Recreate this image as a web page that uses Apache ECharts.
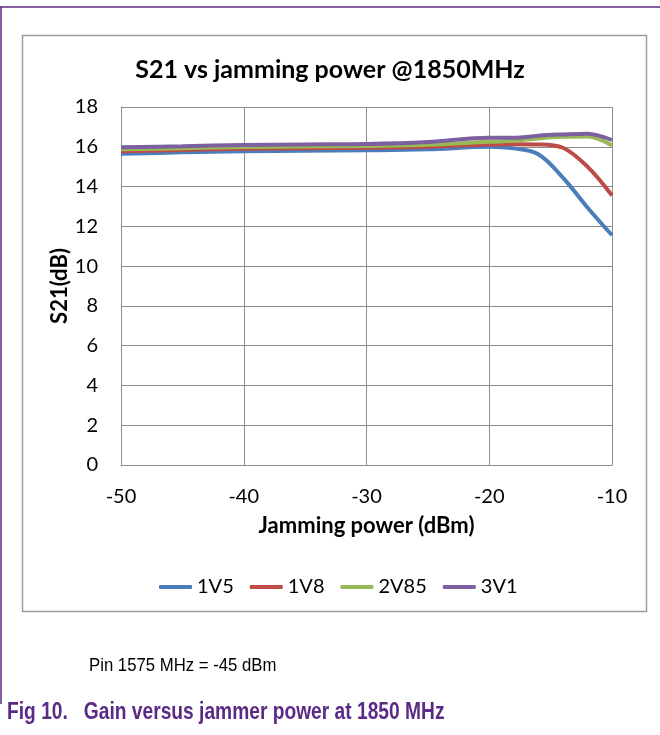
<!DOCTYPE html>
<html>
<head>
<meta charset="utf-8">
<script src="https://cdn.jsdelivr.net/npm/echarts@6/dist/echarts.min.js"></script>
<style>
html,body{margin:0;padding:0;background:#fff;}
#chart{width:660px;height:735px;}
</style>
</head>
<body>
<div id="chart"></div>
<script>
// Data
const jammingPower = [-50, -45, -40, -35, -30, -25, -20, -18, -16, -14, -12, -10];
const s21_1V5  = [15.65, 15.72, 15.78, 15.80, 15.82, 15.87, 16.00, 15.92, 15.62, 14.45, 12.95, 11.55];
const s21_1V8  = [15.77, 15.84, 15.90, 15.93, 15.95, 16.00, 16.12, 16.13, 16.12, 15.95, 15.00, 13.55];
const s21_2V85 = [15.87, 15.93, 15.99, 16.02, 16.04, 16.10, 16.25, 16.30, 16.42, 16.50, 16.52, 16.07];
const s21_3V1  = [15.97, 16.03, 16.09, 16.12, 16.14, 16.24, 16.45, 16.45, 16.56, 16.62, 16.66, 16.34];
const seriesNames = ['1V5', '1V8', '2V85', '3V1'];
const seriesColors = ['#4a7ebb', '#be4b48', '#98b954', '#7d60a0'];
const xTicks = {min: -50, max: -10, interval: 10};
const yTicks = {min: 0, max: 18, interval: 2};
const chartTitle = 'S21 vs jamming power @1850MHz';
const xAxisTitle = 'Jamming power (dBm)';
const yAxisTitle = 'S21(dB)';
const noteText = 'Pin 1575 MHz = -45 dBm';
const captionText = 'Fig 10.   Gain versus jammer power at 1850 MHz';

const seriesValues = [s21_1V5, s21_1V8, s21_2V85, s21_3V1];
const FONT = 'Lato';

const chart = echarts.init(document.getElementById('chart'), null, {renderer: 'canvas'});
chart.setOption({
  backgroundColor: '#fff',
  animation: false,
  title: {
    text: chartTitle,
    left: 'center',
    top: 52,
    textStyle: {fontFamily: FONT, fontWeight: 'bold', fontSize: 25, color: '#000'}
  },
  legend: {
    data: seriesNames,
    left: 154,
    top: 572,
    icon: 'roundRect',
    itemWidth: 33,
    itemHeight: 4,
    itemGap: 16,
    textStyle: {fontFamily: FONT, fontSize: 20, color: '#000'}
  },
  grid: {left: 121, right: 48, top: 107, bottom: 270, containLabel: false},
  xAxis: {
    type: 'value',
    min: xTicks.min, max: xTicks.max, interval: xTicks.interval,
    name: xAxisTitle,
    nameLocation: 'middle',
    nameGap: 50,
    nameMoveOverlap: false,
    nameTextStyle: {fontFamily: FONT, fontWeight: 'bold', fontSize: 22, color: '#000'},
    axisLine: {show: true, lineStyle: {color: '#8c8c8c', width: 1}},
    axisTick: {show: false},
    axisLabel: {fontFamily: FONT, fontSize: 20, color: '#000', margin: 22},
    splitLine: {show: true, lineStyle: {color: '#8c8c8c', width: 1}}
  },
  yAxis: {
    type: 'value',
    min: yTicks.min, max: yTicks.max, interval: yTicks.interval,
    name: yAxisTitle,
    nameLocation: 'middle',
    nameGap: 50,
    nameMoveOverlap: false,
    nameRotate: 90,
    nameTextStyle: {fontFamily: FONT, fontWeight: 'bold', fontSize: 22, color: '#000'},
    axisLine: {show: true, lineStyle: {color: '#8c8c8c', width: 1}},
    axisTick: {show: false},
    axisLabel: {fontFamily: FONT, fontSize: 20, color: '#000', margin: 23},
    splitLine: {show: true, lineStyle: {color: '#8c8c8c', width: 1}}
  },
  series: seriesNames.map((name, i) => ({
    name: name,
    type: 'line',
    smooth: 0.35,
    symbol: 'none',
    color: seriesColors[i],
    lineStyle: {width: 4, color: seriesColors[i]},
    data: jammingPower.map((x, j) => [x, seriesValues[i][j]])
  })),
  graphic: [
    {type: 'line', shape: {x1: 0, y1: 7, x2: 660, y2: 7}, style: {stroke: '#5b2a86', lineWidth: 1.5}, silent: true},
    {type: 'line', shape: {x1: 1, y1: 7, x2: 1, y2: 704}, style: {stroke: '#5b2a86', lineWidth: 1.5}, silent: true},
    {type: 'rect', shape: {x: 22.5, y: 35.5, width: 624, height: 576}, style: {fill: 'none', stroke: '#9a9a9a', lineWidth: 1.5}, silent: true, z: -1},
    {type: 'text', x: 89, y: 657, style: {text: noteText, font: '18px "Liberation Sans"', fill: '#000'}, scaleX: 0.93, silent: true},
    {type: 'text', x: 7, y: 700, style: {text: captionText, font: 'bold 24px "Liberation Sans"', fill: '#5b2a86'}, scaleX: 0.80, silent: true}
  ]
});
</script>
</body>
</html>
